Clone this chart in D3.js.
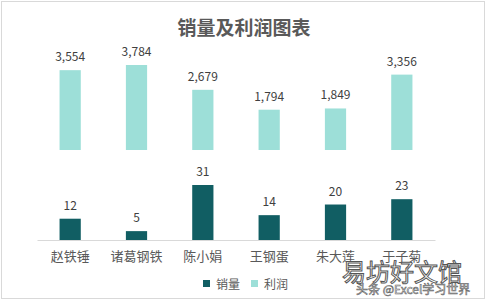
<!DOCTYPE html>
<html>
<head>
<meta charset="utf-8">
<script src="https://cdn.jsdelivr.net/npm/d3@7"></script>
<style>
  body { margin: 0; background: #fff; }
  text { font-family: "Microsoft YaHei", "Noto Sans CJK SC", sans-serif; }
</style>
</head>
<body>
<script>
var names = ['赵铁锤', '诸葛钢铁', '陈小娟', '王钢蛋', '朱大莲', '于子菊'];
var sales = [12, 5, 31, 14, 20, 23];
var profit = [3554, 3784, 2679, 1794, 1849, 3356];

var salesColor = '#115e63';
var profitColor = '#9ddfd8';
var w = 488, h = 304;

var svg = d3.select('body').append('svg')
    .attr('width', w)
    .attr('height', h);

// chart frame
svg.append('rect')
    .attr('x', 1.5).attr('y', 1.5)
    .attr('width', 483).attr('height', 297)
    .style('fill', '#fff')
    .style('stroke', '#d9d9d9');

svg.append('text')
    .attr('x', 244).attr('y', 35)
    .attr('text-anchor', 'middle')
    .style('font-size', '19px')
    .style('font-weight', 'bold')
    .style('fill', '#595959')
    .text('销量及利润图表');

var data = names.map(function(n, i) {
    return {name: n, sales: sales[i], profit: profit[i]};
});

var x = d3.scaleBand()
    .domain(names)
    .range([37, 435])
    .paddingInner(0.68)
    .paddingOuter(0.34);

// profit sits in the upper half, sales in the lower
var yProfit = d3.scaleLinear().domain([0, 3784]).range([150, 65]);
var ySales = d3.scaleLinear().domain([0, 31]).range([240, 185]);

svg.selectAll('.profit')
    .data(data)
    .enter().append('rect')
    .attr('class', 'profit')
    .attr('x', function(d) { return x(d.name); })
    .attr('y', function(d) { return yProfit(d.profit); })
    .attr('width', x.bandwidth())
    .attr('height', function(d) { return yProfit(0) - yProfit(d.profit); })
    .style('fill', profitColor);

svg.selectAll('.sales')
    .data(data)
    .enter().append('rect')
    .attr('class', 'sales')
    .attr('x', function(d) { return x(d.name); })
    .attr('y', function(d) { return ySales(d.sales); })
    .attr('width', x.bandwidth())
    .attr('height', function(d) { return ySales(0) - ySales(d.sales); })
    .style('fill', salesColor);

svg.selectAll('.plabel')
    .data(data)
    .enter().append('text')
    .attr('class', 'plabel')
    .attr('x', function(d) { return x(d.name) + x.bandwidth() / 2; })
    .attr('y', function(d) { return yProfit(d.profit) - 9; })
    .attr('text-anchor', 'middle')
    .style('font-size', '12px')
    .style('fill', '#404040')
    .text(function(d) { return d3.format(',')(d.profit); });

svg.selectAll('.slabel')
    .data(data)
    .enter().append('text')
    .attr('class', 'slabel')
    .attr('x', function(d) { return x(d.name) + x.bandwidth() / 2; })
    .attr('y', function(d) { return ySales(d.sales) - 9; })
    .attr('text-anchor', 'middle')
    .style('font-size', '12px')
    .style('fill', '#404040')
    .text(function(d) { return d.sales; });

var axis = svg.append('g')
    .attr('transform', 'translate(0,240)')
    .call(d3.axisBottom(x).tickSize(0).tickPadding(12));
axis.select('.domain').style('stroke', '#d9d9d9');
axis.selectAll('text')
    .style('font-size', '13px')
    .style('fill', '#595959')
    .style('font-family', '"Microsoft YaHei", "Noto Sans CJK SC", sans-serif');

var legend = svg.selectAll('.legend')
    .data([{label: '销量', color: salesColor}, {label: '利润', color: profitColor}])
    .enter().append('g')
    .attr('class', 'legend')
    .attr('transform', function(d, i) { return 'translate(' + (203 + i * 48) + ',284)'; });
legend.append('rect')
    .attr('x', 0).attr('y', -4)
    .attr('width', 7).attr('height', 7)
    .style('fill', function(d) { return d.color; });
legend.append('text')
    .attr('x', 13).attr('y', 4.5)
    .style('font-size', '12px')
    .style('fill', '#595959')
    .text(function(d) { return d.label; });

// watermark
svg.append('text')
    .attr('x', 342).attr('y', 281)
    .style('font-size', '24px')
    .style('fill', '#fff')
    .style('stroke', '#555')
    .style('stroke-width', 1)
    .text('易坊好文馆');
svg.append('text')
    .attr('x', 356).attr('y', 294)
    .style('font-size', '12px')
    .style('fill', '#fff')
    .style('stroke', '#666')
    .style('stroke-width', 0.6)
    .text('头条 @Excel学习世界');
</script>
</body>
</html>
